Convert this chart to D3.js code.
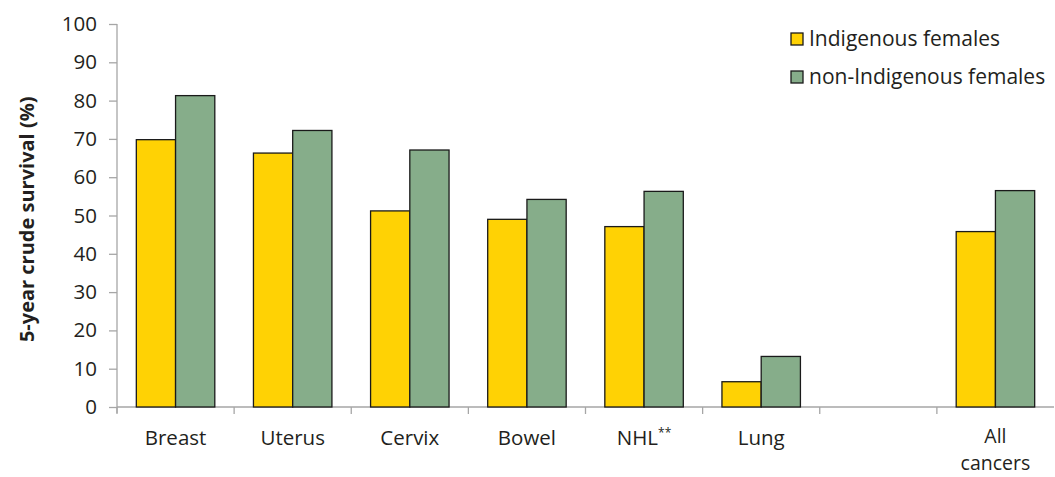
<!DOCTYPE html>
<html>
<head>
<meta charset="utf-8">
<script src="https://cdn.jsdelivr.net/npm/d3@7"></script>
<style>
  body { margin: 0; background: #fff; }
  text { font-family: "Open Sans", "Noto Sans", sans-serif; fill: #231f20; }
</style>
</head>
<body>
<div id="chart"></div>
<script>
// chart data
var categories = ["Breast", "Uterus", "Cervix", "Bowel", "NHL**", "Lung", "", "All cancers"];
var indigenous = [69.8, 66.3, 51.2, 49.0, 47.1, 6.6, null, 45.8];
var nonIndigenous = [81.3, 72.2, 67.1, 54.2, 56.3, 13.2, null, 56.5];
var seriesNames = ["Indigenous females", "non-Indigenous females"];
var seriesColors = ["#ffd204", "#86ad8a"];
var yTicks = [0, 10, 20, 30, 40, 50, 60, 70, 80, 90, 100];

var width = 1055, height = 477;
var margin = { top: 24, right: 0, bottom: 70, left: 117 };

var svg = d3.select("#chart").append("svg")
  .attr("width", width)
  .attr("height", height);

var x = d3.scaleBand()
  .domain(d3.range(categories.length))
  .range([margin.left, width - 1])
  .paddingInner(0)
  .paddingOuter(0);

var y = d3.scaleLinear()
  .domain([0, 100])
  .range([height - margin.bottom, margin.top]);

var barW = x.bandwidth() * 0.335;
var gap = (x.bandwidth() - 2 * barW) / 2;

// y axis
var yAxis = svg.append("g")
  .attr("transform", "translate(" + margin.left + ",0)")
  .call(d3.axisLeft(y).tickValues(yTicks).tickSize(8).tickPadding(12));
yAxis.selectAll("line, path").attr("stroke", "#a6a6a6").attr("stroke-width", 1.3);
yAxis.selectAll("text").style("font-size", "20.5px").attr("fill", "#231f20");
yAxis.select(".domain").attr("d", "M0," + y(100) + "V" + (y(0) + 6));

// x axis (ticks at category boundaries)
var bounds = d3.range(categories.length).map(function (i) { return x(i); });
svg.append("line")
  .attr("x1", margin.left).attr("x2", width - 1)
  .attr("y1", y(0)).attr("y2", y(0))
  .attr("stroke", "#a6a6a6").attr("stroke-width", 1.3);
svg.selectAll(".xtick")
  .data(bounds)
  .enter().append("line")
  .attr("x1", function (d) { return d; })
  .attr("x2", function (d) { return d; })
  .attr("y1", y(0)).attr("y2", y(0) + 7)
  .attr("stroke", "#a6a6a6").attr("stroke-width", 1.3);

// x labels
categories.forEach(function (c, i) {
  if (!c) return;
  var cx = x(i) + x.bandwidth() / 2;
  var t = svg.append("text")
    .attr("x", cx)
    .attr("y", 445)
    .attr("text-anchor", "middle")
    .style("font-size", "20.5px");
  if (c === "All cancers") {
    t.attr("y", 443).style("font-size", "19.5px");
    t.append("tspan").attr("x", cx).text("All");
    t.append("tspan").attr("x", cx).attr("dy", 27).text("cancers");
  } else if (c.indexOf("**") > 0) {
    t.append("tspan").text(c.replace("**", ""));
    t.append("tspan").attr("dy", -8).style("font-size", "12px").text("**");
  } else {
    t.text(c);
  }
});

// bars
var seriesData = [indigenous, nonIndigenous];
seriesData.forEach(function (vals, s) {
  svg.selectAll(".bar" + s)
    .data(vals.map(function (v, i) { return { i: i, v: v }; }).filter(function (d) { return d.v != null; }))
    .enter().append("rect")
    .attr("x", function (d) { return x(d.i) + gap + s * barW; })
    .attr("y", function (d) { return y(d.v); })
    .attr("width", barW)
    .attr("height", function (d) { return y(0) - y(d.v); })
    .attr("fill", seriesColors[s])
    .attr("stroke", "#1a1a1a")
    .attr("stroke-width", 1.3);
});

// y title
svg.append("text")
  .attr("transform", "translate(34," + y(49) + ") rotate(-90)")
  .attr("text-anchor", "middle")
  .style("font-size", "20px")
  .style("font-weight", "bold")
  .text("5-year crude survival (%)");

// legend
var legend = svg.append("g").attr("transform", "translate(791,33)");
seriesNames.forEach(function (n, i) {
  var g = legend.append("g").attr("transform", "translate(0," + i * 38 + ")");
  g.append("rect")
    .attr("width", 12).attr("height", 12)
    .attr("fill", seriesColors[i])
    .attr("stroke", "#1a1a1a").attr("stroke-width", 1.3);
  g.append("text")
    .attr("x", 18).attr("y", 13)
    .style("font-size", "21px")
    .text(n);
});
</script>
</body>
</html>
